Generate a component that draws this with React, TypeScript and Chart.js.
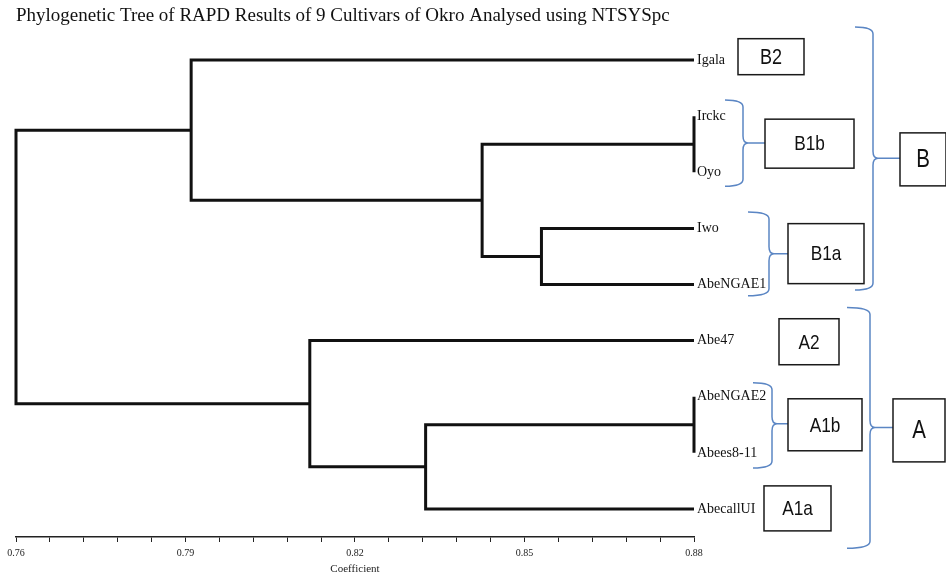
import React, { useEffect, useRef } from "react";
import { Chart, registerables } from "chart.js";

Chart.register(...registerables);

// ---------- data ----------
const chartTitle = "Phylogenetic Tree of RAPD Results of 9 Cultivars of Okro Analysed using NTSYSpc";
const axisTitle = "Coefficient";
const leaves = ["Igala", "Irckc", "Oyo", "Iwo", "AbeNGAE1", "Abe47", "AbeNGAE2", "Abees8-11", "AbecallUI"];
const leafCoefficient = 0.88;
// merges (ids 9..16); children are leaf indices (0..8) or earlier merge ids
const mergeLeft = [1, 6, 3, 9, 10, 5, 0, 15];
const mergeRight = [2, 7, 4, 11, 8, 13, 12, 14];
const mergeHeight = [0.88, 0.88, 0.853, 0.8425, 0.8325, 0.812, 0.791, 0.76];
const xMin = 0.76;
const xMax = 0.88;
const tickStep = 0.006;
const tickLabels = ["0.76", "0.79", "0.82", "0.85", "0.88"];

// group labels shown in boxes
const groupLabels = ["B2", "B1b", "B1a", "B", "A2", "A1b", "A1a", "A"];

// ---------- decoration geometry (px offsets from plot right edge / leaf units) ----------
const boxGeom: Record<string, { x: number; w: number; cy: number; h: number; fs: number }> = {
  B2: { x: 44, w: 66, cy: -0.06, h: 36, fs: 22 },
  B1b: { x: 71, w: 89, cy: 1.49, h: 49, fs: 21 },
  B1a: { x: 94, w: 76, cy: 3.45, h: 60, fs: 21 },
  B: { x: 206, w: 46, cy: 1.77, h: 53, fs: 25 },
  A2: { x: 85, w: 60, cy: 5.02, h: 46, fs: 21 },
  A1b: { x: 94, w: 74, cy: 6.5, h: 52, fs: 21 },
  A1a: { x: 70, w: 67, cy: 7.99, h: 45, fs: 21 },
  A: { x: 199, w: 52, cy: 6.6, h: 63, fs: 25 },
};
const braceGeom: Record<string, { top: number; bot: number; left: number; spine: number; tip: number }> = {
  B1b: { top: 0.71, bot: 2.25, left: 31, spine: 49, tip: 1.48 },
  B1a: { top: 2.71, bot: 4.2, left: 54, spine: 75, tip: 3.45 },
  B: { top: -0.59, bot: 4.1, left: 161, spine: 179, tip: 1.75 },
  A1b: { top: 5.75, bot: 7.27, left: 59, spine: 78, tip: 6.48 },
  A: { top: 4.41, bot: 8.7, left: 153, spine: 176, tip: 6.55 },
};

const SERIF = "'Liberation Serif', 'Times New Roman', serif";
const SANS = "'Liberation Sans', Arial, sans-serif";

function buildSegments() {
  const nodeX: number[] = leaves.map(() => leafCoefficient);
  const nodeY: number[] = leaves.map((_, i) => i);
  const sets: { x: number; y: number }[][] = [];
  mergeLeft.forEach((l, k) => {
    const r = mergeRight[k];
    const h = mergeHeight[k];
    sets.push([
      { x: nodeX[l], y: nodeY[l] },
      { x: h, y: nodeY[l] },
      { x: h, y: nodeY[r] },
      { x: nodeX[r], y: nodeY[r] },
    ]);
    nodeX.push(h);
    nodeY.push((nodeY[l] + nodeY[r]) / 2);
  });
  return sets;
}

const decorPlugin = {
  id: "groupDecor",
  afterDraw(chart: any) {
    const { ctx, chartArea, scales } = chart;
    const ys = scales.y;
    const R = chartArea.right;
    ctx.save();
    groupLabels.forEach((lab) => {
      const g = boxGeom[lab];
      const b = braceGeom[lab];
      if (b) {
        const x0 = R + b.left;
        const xs = R + b.spine;
        const yt = ys.getPixelForValue(b.top);
        const yb = ys.getPixelForValue(b.bot);
        const ym = ys.getPixelForValue(b.tip);
        const rr = 7;
        ctx.beginPath();
        ctx.moveTo(x0, yt);
        ctx.quadraticCurveTo(xs, yt, xs, yt + rr);
        ctx.lineTo(xs, ym - rr);
        ctx.quadraticCurveTo(xs, ym, xs + 5, ym);
        ctx.quadraticCurveTo(xs, ym, xs, ym + rr);
        ctx.lineTo(xs, yb - rr);
        ctx.quadraticCurveTo(xs, yb, x0, yb);
        ctx.moveTo(xs + 5, ym);
        ctx.lineTo(R + g.x, ym);
        ctx.strokeStyle = "#5b86c4";
        ctx.lineWidth = 1.5;
        ctx.stroke();
      }
      const cy = ys.getPixelForValue(g.cy);
      const bx = R + g.x;
      const by = cy - g.h / 2;
      ctx.fillStyle = "#ffffff";
      ctx.fillRect(bx, by, g.w, g.h);
      ctx.strokeStyle = "#1a1a1a";
      ctx.lineWidth = 1.5;
      ctx.strokeRect(bx, by, g.w, g.h);
      ctx.save();
      ctx.translate(bx + g.w / 2, cy + 1);
      ctx.scale(0.82, 1);
      ctx.fillStyle = "#111111";
      ctx.font = `${g.fs}px ${SANS}`;
      ctx.textAlign = "center";
      ctx.textBaseline = "middle";
      ctx.fillText(lab, 0, 0);
      ctx.restore();
    });
    ctx.restore();
  },
};

export default function App() {
  const ref = useRef<HTMLCanvasElement | null>(null);
  useEffect(() => {
    document.body.style.margin = "0";
    const canvas = ref.current;
    if (!canvas) return;
    const segs = buildSegments();
    const chart = new Chart(canvas, {
      type: "scatter",
      data: {
        datasets: segs.map((s) => ({
          data: s,
          showLine: true,
          borderColor: "#111111",
          borderWidth: 3,
          pointRadius: 0,
          tension: 0,
          clip: false as any,
          borderJoinStyle: "miter" as any,
        })),
      },
      options: {
        animation: false,
        responsive: false,
        devicePixelRatio: 1,
        layout: { padding: { left: 16, right: 0, top: 0, bottom: 0 } },
        plugins: {
          legend: { display: false },
          tooltip: { enabled: false },
          title: {
            display: true,
            text: chartTitle,
            align: "start",
            color: "#111111",
            font: { family: SERIF, size: 19, weight: "normal" },
            padding: { top: 5, bottom: 4.2 },
          },
        },
        scales: {
          x: {
            type: "linear",
            min: xMin,
            max: xMax,
            grid: { display: true, drawOnChartArea: false, drawTicks: true, tickLength: 5, color: "#222", lineWidth: 1 },
            border: { display: true, color: "#222", width: 1.5 },
            ticks: {
              stepSize: tickStep,
              autoSkip: false,
              maxRotation: 0,
              padding: 5,
              color: "#222",
              font: { family: SERIF, size: 10 },
              callback: (_v: any, i: number) => (i % 5 === 0 ? tickLabels[i / 5] : ""),
            },
            title: {
              display: true,
              text: axisTitle,
              color: "#222",
              font: { family: SERIF, size: 11 },
              padding: { top: 0, bottom: 2.5 },
            },
            afterFit: (s: any) => {
              s.height = 41;
            },
          },
          y: { type: "linear", min: -0.5, max: 8.5, reverse: true, display: false },
          yl: {
            type: "category",
            labels: leaves,
            position: "right",
            offset: true,
            grid: { display: false, drawTicks: false },
            border: { display: false },
            ticks: { autoSkip: false, padding: 3, color: "#111", font: { family: SERIF, size: 14 } },
            afterFit: (s: any) => {
              s.width = 252;
            },
          },
        } as any,
      },
      plugins: [decorPlugin],
    });
    return () => chart.destroy();
  }, []);
  return (
    <div style={{ position: "absolute", left: 0, top: 0, width: 946, height: 578, background: "#fff" }}>
      <canvas ref={ref} width={946} height={578} />
    </div>
  );
}
